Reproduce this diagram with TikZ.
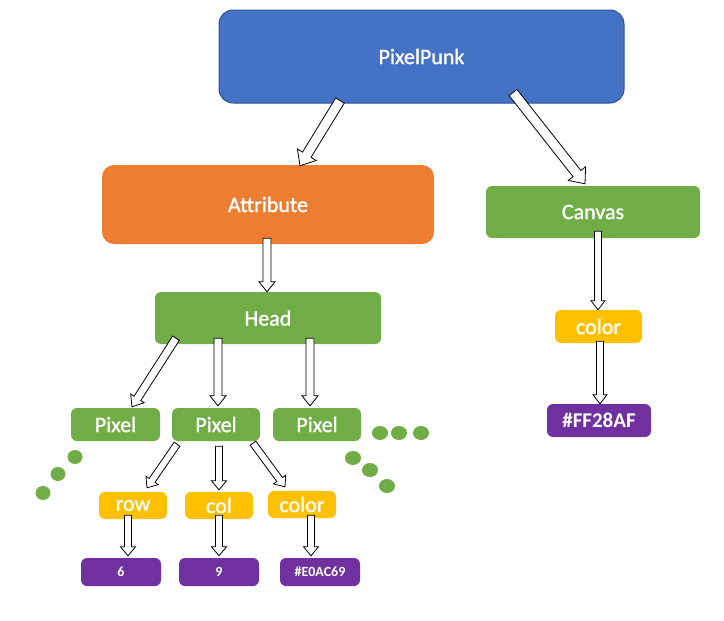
\documentclass[tikz,border=0pt]{standalone}
\usepackage{fontspec}
\setmainfont{Carlito}
\newfontfamily\medfont{Carlito}[FakeBold=1.2]
\usetikzlibrary{calc}
\definecolor{cblue}{HTML}{4472C4}
\definecolor{cblueb}{HTML}{2F528F}
\definecolor{corange}{HTML}{ED7D31}
\definecolor{cgreen}{HTML}{70AD47}
\definecolor{cyellow}{HTML}{FFC000}
\definecolor{cpurple}{HTML}{7030A0}
\tikzset{
  box/.style={rectangle, text=white, inner sep=0pt, font=\medfont\fontsize{22}{26}\selectfont, rounded corners=6pt},
  bigbox/.style={box, rounded corners=14pt},
  valbox/.style={box, fill=cpurple, font=\fontsize{14}{17}\selectfont\bfseries},
  blockarrow/.style={draw=black, fill=white, line width=0.8pt, line join=miter},
  dot/.style={fill=cgreen}
}
\newcommand\barrow[5]{%
  \coordinate (bah) at ($(#2)!#5!(#1)$);
  \draw[blockarrow] ($(#1)!#3!90:(#2)$) -- ($(bah)!#3!90:(#2)$) -- ($(bah)!#4!90:(#2)$) -- (#2)
    -- ($(bah)!#4!-90:(#2)$) -- ($(bah)!#3!-90:(#2)$) -- ($(#1)!#3!-90:(#2)$) -- cycle;
}
\begin{document}
\begin{tikzpicture}[x=1pt,y=-1pt]
\useasboundingbox (0,0) rectangle (724,621);
% nodes
\node[bigbox, fill=cblue, draw=cblueb, line width=1pt, minimum width=405pt, minimum height=93pt] (pp) at (421.5,56.5) {PixelPunk};
\node[bigbox, rounded corners=12pt, fill=corange, minimum width=332pt, minimum height=79pt] (att) at (268,204.5) {Attribute};
\node[box, fill=cgreen, minimum width=214pt, minimum height=52pt] (can) at (593,212) {Canvas};
\node[box, fill=cgreen, minimum width=226pt, minimum height=52pt] (head) at (268,318) {Head};
\node[box, fill=cgreen, minimum width=89pt, minimum height=33pt] (p1) at (115.5,424.5) {Pixel};
\node[box, fill=cgreen, minimum width=88pt, minimum height=33pt] (p2) at (216,424.5) {Pixel};
\node[box, fill=cgreen, minimum width=88pt, minimum height=33pt] (p3) at (317,424.5) {Pixel};
\node[box, fill=cyellow, minimum width=68pt, minimum height=27pt] (row) at (133,505.5) {row};
\node[box, fill=cyellow, minimum width=68pt, minimum height=27pt] (col) at (219,505.5) {col};
\node[box, fill=cyellow, minimum width=68pt, minimum height=27pt] (clr) at (302,504.5) {color};
\node[valbox, minimum width=80pt, minimum height=28pt] (six) at (121,572) {6};
\node[valbox, minimum width=80pt, minimum height=28pt] (nine) at (219,572) {9};
\node[valbox, minimum width=80pt, minimum height=28pt] (e0) at (320,572) {\#E0AC69};
\node[box, fill=cyellow, minimum width=87pt, minimum height=33pt] (ccol) at (598.5,326.5) {color};
\node[box, fill=cpurple, minimum width=104pt, minimum height=33pt, font=\fontsize{21}{25}\selectfont\bfseries] (ff) at (599,420.5) {\#FF28AF};
% connector ends
\coordinate (a1s) at ($(pp.south)+(-81.5,-3)$);
\coordinate (a1e) at ($(att.north)+(32,1)$);
\coordinate (a2s) at ($(pp.south)+(91.5,-11)$);
\coordinate (a2e) at ($(can.north)+(-8,-2)$);
\coordinate (a3s) at ($(att.south)+(-1,-6)$);
\coordinate (a3e) at ($(head.north)+(-1,0)$);
\coordinate (a4s) at ($(can.south)+(5,-7)$);
\coordinate (a4e) at ($(ccol.north)+(-0.5,0)$);
\coordinate (a5s) at ($(ccol.south)+(1.5,-2)$);
\coordinate (a5e) at ($(ff.north)+(1,0)$);
\coordinate (a6s) at ($(head.south)+(-92,-6)$);
\coordinate (a6e) at ($(p1.north)+(16.5,-1)$);
\coordinate (a7s) at ($(head.south)+(-50,-6)$);
\coordinate (a7e) at ($(p2.north)+(2,-2)$);
\coordinate (a8s) at ($(head.south)+(42,-6)$);
\coordinate (a8e) at ($(p3.north)+(-7,-2)$);
\coordinate (a9s) at ($(p2.south)+(-39,3)$);
\coordinate (a9e) at ($(row.north)+(14,-4)$);
\coordinate (a10s) at ($(p2.south)+(3,5)$);
\coordinate (a10e) at ($(col.north)+(0,-2)$);
\coordinate (a11s) at ($(p2.south)+(37,2)$);
\coordinate (a11e) at ($(clr.north)+(-17,-4)$);
\coordinate (a12s) at ($(row.south)+(-5,-4)$);
\coordinate (a12e) at ($(six.north)+(7,-2)$);
\coordinate (a13s) at ($(col.south)+(0,-4)$);
\coordinate (a13e) at ($(nine.north)+(0,-2)$);
\coordinate (a14s) at ($(clr.south)+(9,-3)$);
\coordinate (a14e) at ($(e0.north)+(-9,-2)$);
% arrows
\barrow{a1s}{a1e}{5pt}{11pt}{13pt}
\barrow{a2s}{a2e}{5pt}{11pt}{13pt}
\barrow{a3s}{a3e}{4pt}{8pt}{10pt}
\barrow{a4s}{a4e}{3.5pt}{7pt}{9pt}
\barrow{a5s}{a5e}{3.5pt}{7pt}{9pt}
\barrow{a6s}{a6e}{4pt}{8pt}{10pt}
\barrow{a7s}{a7e}{4pt}{8pt}{10pt}
\barrow{a8s}{a8e}{4pt}{8pt}{10pt}
\barrow{a9s}{a9e}{3.5pt}{7.5pt}{9pt}
\barrow{a10s}{a10e}{3.5pt}{7.5pt}{9pt}
\barrow{a11s}{a11e}{3.5pt}{7.5pt}{9pt}
\barrow{a12s}{a12e}{3.5pt}{7.5pt}{9pt}
\barrow{a13s}{a13e}{3.5pt}{7.5pt}{9pt}
\barrow{a14s}{a14e}{3.5pt}{7.5pt}{9pt}
% dots
\fill[dot] (43,493) ellipse [x radius=7.5pt, y radius=7pt];
\fill[dot] (58,474) ellipse [x radius=7.5pt, y radius=7pt];
\fill[dot] (75,457) ellipse [x radius=7.5pt, y radius=7pt];
\fill[dot] (353,458) ellipse [x radius=8pt, y radius=7pt];
\fill[dot] (370,470) ellipse [x radius=8pt, y radius=7pt];
\fill[dot] (387,486) ellipse [x radius=8pt, y radius=7pt];
\fill[dot] (380,433) ellipse [x radius=8pt, y radius=7pt];
\fill[dot] (399,433) ellipse [x radius=8pt, y radius=7pt];
\fill[dot] (421,433) ellipse [x radius=8pt, y radius=7pt];
\end{tikzpicture}
\end{document}
